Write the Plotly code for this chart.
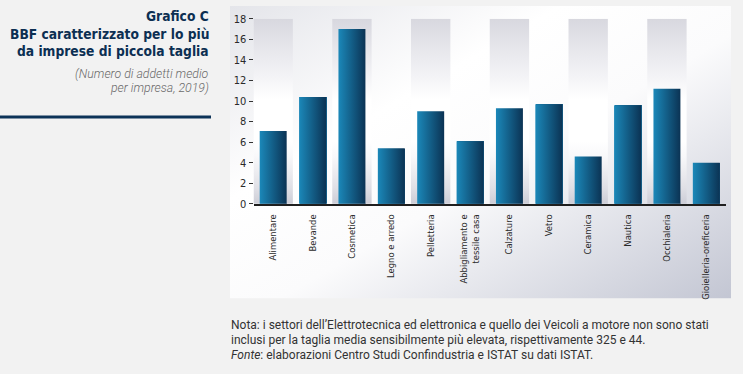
import base64
import plotly.graph_objects as go

# ---------------- data ----------------
categories = ["Alimentare", "Bevande", "Cosmetica", "Legno e arredo", "Pelletteria",
              "Abbigliamento e<br>tessile casa", "Calzature", "Vetro", "Ceramica",
              "Nautica", "Occhialeria", "Gioielleria-oreficeria"]
values = [7.1, 10.4, 17.0, 5.4, 9.0, 6.1, 9.3, 9.7, 4.6, 9.6, 11.2, 4.0]
y_ticks = [0, 2, 4, 6, 8, 10, 12, 14, 16, 18]

title_lines = ["Grafico C", "BBF caratterizzato per lo più", "da imprese di piccola taglia"]
subtitle_lines = ["(Numero di addetti medio", "per impresa, 2019)"]
note_lines = [
    "Nota: i settori dell’Elettrotecnica ed elettronica e quello dei Veicoli a motore non sono stati",
    "inclusi per la taglia media sensibilmente più elevata, rispettivamente 325 e 44.",
    "<i>Fonte</i>: elaborazioni Centro Studi Confindustria e ISTAT su dati ISTAT.",
]

# ---------------- geometry helpers ----------------
W, H = 743, 374
def px(x): return x / W
def py(y): return 1 - y / H

NARROW = "Liberation Sans Narrow, DejaVu Sans Condensed, Roboto, sans-serif"
idx = list(range(len(categories)))
y_max = y_ticks[-1]
bar_w = 0.685

fig = go.Figure()

# alternating shaded bands behind every other category
band_scale = [[0.0, "#c4c5d0"], [0.12, "#e0e0e6"], [0.28, "#f8f8fa"], [0.36, "#ffffff"],
              [0.58, "#ffffff"], [0.70, "#f3f3f6"], [0.85, "#e6e6eb"], [1.0, "#d8d8df"]]
for i in idx[::2]:
    fig.add_trace(go.Scatter(
        x=[i - 0.5, i + 0.5, i + 0.5, i - 0.5, i - 0.5],
        y=[0, 0, y_max, y_max, 0],
        mode="none", fill="toself",
        fillgradient=dict(type="vertical", colorscale=band_scale, start=0, stop=y_max),
        hoverinfo="skip", showlegend=False))

# bars
fig.add_trace(go.Bar(x=idx, y=values, width=bar_w, marker_color="#135d87",
                     marker_line_width=0, showlegend=False))

# horizontal gradient overlay on each bar
for i, v in zip(idx, values):
    fig.add_trace(go.Scatter(
        x=[i - bar_w / 2, i + bar_w / 2, i + bar_w / 2, i - bar_w / 2, i - bar_w / 2],
        y=[0, 0, v, v, 0],
        mode="none", fill="toself",
        fillgradient=dict(type="horizontal", colorscale=[[0, "#1b88b9"], [1, "#0b3354"]],
                          start=i - bar_w / 2, stop=i + bar_w / 2),
        hoverinfo="skip", showlegend=False))

# panel background gradient
svg = ("<svg xmlns='http://www.w3.org/2000/svg' width='501' height='303' preserveAspectRatio='none'>"
       "<defs><linearGradient id='g' x1='0' y1='0' x2='1' y2='1'>"
       "<stop offset='0' stop-color='#e4e5ea'/><stop offset='0.33' stop-color='#ffffff'/>"
       "<stop offset='0.55' stop-color='#fbfbfc'/><stop offset='1' stop-color='#c3c6d3'/>"
       "</linearGradient></defs><rect width='501' height='303' fill='url(#g)'/></svg>")
src = "data:image/svg+xml;base64," + base64.b64encode(svg.encode()).decode()

annotations = []
title_y = [10, 29, 47]
for t, yy in zip(title_lines, title_y):
    annotations.append(dict(text="<b>" + t + "</b>", x=px(211), y=py(yy), xref="paper", yref="paper",
                            xanchor="right", yanchor="middle", showarrow=False,
                            font=dict(family=NARROW, size=13.7, color="#0c2f52")))
for t, yy in zip(subtitle_lines, [70, 85]):
    annotations.append(dict(text="<i>" + t + "</i>", x=px(211), y=py(yy), xref="paper", yref="paper",
                            xanchor="right", yanchor="middle", showarrow=False,
                            font=dict(family="Roboto, sans-serif", size=12.3, color="#6a6a6a", weight=300)))
for t, yy in zip(note_lines, [330, 346, 362]):
    annotations.append(dict(text=t, x=px(229), y=py(yy), xref="paper", yref="paper",
                            xanchor="left", yanchor="middle", showarrow=False,
                            font=dict(family="Roboto, sans-serif", size=12, color="#333333")))

fig.update_layout(
    width=W, height=H,
    margin=dict(l=0, r=0, t=0, b=0),
    paper_bgcolor="#f2f2f2",
    plot_bgcolor="rgba(0,0,0,0)",
    bargap=0,
    xaxis=dict(domain=[px(253.5), px(726)], range=[-0.5, len(categories) - 0.5],
               tickvals=idx, ticktext=categories, tickangle=-90, ticks="", ticklabelstandoff=5,
               showgrid=False, zeroline=False, showline=True, linecolor="#1f1f1f", linewidth=1.5,
               tickfont=dict(family=NARROW, size=9.4, color="#2a2a2a"), fixedrange=True),
    yaxis=dict(domain=[py(205), py(13.3)], range=[0, y_max], tickvals=y_ticks,
               ticks="outside", ticklen=4, tickwidth=1.2, tickcolor="#333333",
               showgrid=False, zeroline=False, showline=False,
               tickfont=dict(family=NARROW, size=11, color="#2a2a2a"), fixedrange=True),
    images=[dict(source=src, xref="paper", yref="paper", x=px(230), y=1,
                 sizex=px(731) - px(230), sizey=303 / H, sizing="stretch",
                 xanchor="left", yanchor="top", layer="below")],
    shapes=[dict(type="line", xref="paper", yref="paper", x0=0, x1=px(211), y0=py(115), y1=py(115),
                 line=dict(color="#0d3358", width=3))],
    annotations=annotations,
)

fig.write_html("out.html", config={"displayModeBar": False},
               post_script="document.body.style.margin='0';document.body.style.background='#f2f2f2';")
